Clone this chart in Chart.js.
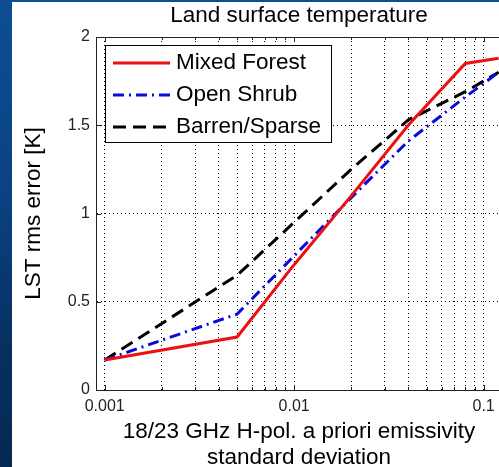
<!DOCTYPE html>
<html>
<head>
<meta charset="utf-8">
<script src="https://cdn.jsdelivr.net/npm/chart.js@4"></script>
<style>
  html, body { margin: 0; padding: 0; }
  body {
    width: 499px; height: 467px; overflow: hidden; position: relative;
    background: linear-gradient(180deg, #0d4e94 0%, #0b4283 40%, #073060 75%, #052851 100%);
  }
  #panel { position: absolute; left: 12px; top: 2px; right: 0; bottom: 0; background: #fff; }
  #chart { position: absolute; left: 0; top: 0; }
</style>
</head>
<body>
<div id="panel"></div>
<canvas id="chart" width="594" height="467"></canvas>
<script>
// LST rms error vs a priori emissivity standard deviation
const xValues = [0.001, 0.005, 0.01, 0.02, 0.04, 0.08, 0.12];
const mixedForest = [0.17, 0.30, 0.71, 1.10, 1.50, 1.85, 1.88];
const openShrub = [0.17, 0.43, 0.76, 1.09, 1.41, 1.66, 1.80];
const barrenSparse = [0.17, 0.65, 0.95, 1.25, 1.53, 1.69, 1.80];
const seriesNames = ['Mixed Forest', 'Open Shrub', 'Barren/Sparse'];

const xTicks = [0.001, 0.002, 0.003, 0.004, 0.005, 0.006, 0.007, 0.008, 0.009,
                0.01, 0.02, 0.03, 0.04, 0.05, 0.06, 0.07, 0.08, 0.09, 0.1];
const xMajor = [0.001, 0.01, 0.1];
const xMajorLabels = ['0.001', '0.01', '0.1'];
const yTicks = [0, 0.5, 1, 1.5, 2];

const FONT = 'Liberation Sans';

function majorIndex(v) {
    return xMajor.findIndex(m => Math.abs(m - v) / m < 1e-6);
}

function toPoints(ys) {
    return xValues.map((x, i) => ({ x: x, y: ys[i] }));
}

// box round the axes plus inward tick marks, matlab style
const framePlugin = {
    id: 'frame',
    afterDatasetsDraw(chart) {
        const { ctx, chartArea: a, scales: { x, y } } = chart;
        ctx.save();
        ctx.strokeStyle = '#222';
        ctx.lineWidth = 1;
        ctx.beginPath();
        ctx.moveTo(a.left, a.top + 0.5);
        ctx.lineTo(a.right, a.top + 0.5);
        ctx.moveTo(a.right - 0.5, a.top);
        ctx.lineTo(a.right - 0.5, a.bottom);
        x.ticks.forEach(t => {
            const px = Math.round(x.getPixelForValue(t.value)) + 0.5;
            const len = majorIndex(t.value) >= 0 ? 5 : 3;
            ctx.moveTo(px, a.bottom);
            ctx.lineTo(px, a.bottom - len);
            ctx.moveTo(px, a.top);
            ctx.lineTo(px, a.top + len);
        });
        y.ticks.forEach(t => {
            const py = Math.round(y.getPixelForValue(t.value)) + 0.5;
            ctx.moveTo(a.left, py);
            ctx.lineTo(a.left + 5, py);
        });
        ctx.stroke();
        ctx.restore();
    }
};

// legend drawn inside the axes with a framed white box
const boxLegend = {
    id: 'boxLegend',
    afterDraw(chart) {
        const { ctx, chartArea: a } = chart;
        const bx = a.left + 9, by = a.top + 8, bw = 226, bh = 97;
        ctx.save();
        ctx.fillStyle = '#fff';
        ctx.fillRect(bx, by, bw, bh);
        ctx.strokeStyle = '#000';
        ctx.lineWidth = 1;
        ctx.strokeRect(bx + 0.5, by + 0.5, bw, bh);
        chart.data.datasets.forEach((ds, i) => {
            const ly = by + 18 + i * 32;
            ctx.strokeStyle = ds.borderColor;
            ctx.lineWidth = ds.borderWidth;
            ctx.setLineDash(ds.borderDash || []);
            ctx.beginPath();
            ctx.moveTo(bx + 8, ly);
            ctx.lineTo(bx + 65, ly);
            ctx.stroke();
            ctx.setLineDash([]);
            ctx.fillStyle = '#000';
            ctx.font = '22.5px "' + FONT + '"';
            ctx.textBaseline = 'middle';
            ctx.textAlign = 'left';
            ctx.fillText(ds.label, bx + 71, ly);
        });
        ctx.restore();
    }
};

new Chart(document.getElementById('chart'), {
    type: 'line',
    data: {
        datasets: [
            {
                label: seriesNames[0],
                data: toPoints(mixedForest),
                borderColor: 'rgb(235,17,17)',
                borderWidth: 3,
                borderDash: []
            },
            {
                label: seriesNames[1],
                data: toPoints(openShrub),
                borderColor: 'rgb(10,10,220)',
                borderWidth: 3,
                borderDash: [11, 5, 2, 5]
            },
            {
                label: seriesNames[2],
                data: toPoints(barrenSparse),
                borderColor: '#000',
                borderWidth: 3,
                borderDash: [13, 7]
            }
        ]
    },
    options: {
        responsive: false,
        animation: false,
        layout: { padding: { left: 0, right: 92, top: 0, bottom: 0 } },
        elements: {
            point: { radius: 0 },
            line: { tension: 0, borderCapStyle: 'butt', fill: false }
        },
        plugins: {
            legend: { display: false },
            tooltip: { enabled: false },
            title: {
                display: true,
                fullSize: false,
                text: 'Land surface temperature',
                color: '#000',
                font: { family: FONT, size: 22.5, weight: 'normal', lineHeight: 1.2 },
                padding: { top: 2, bottom: 8 }
            }
        },
        scales: {
            x: {
                type: 'logarithmic',
                min: 0.0009,
                max: 0.125,
                afterBuildTicks: s => { s.ticks = xTicks.map(v => ({ value: v })); },
                afterFit: s => { s.height = 77; },
                ticks: {
                    autoSkip: false,
                    maxRotation: 0,
                    padding: 7,
                    color: '#222',
                    font: { family: FONT, size: 16 },
                    callback: v => {
                        const i = majorIndex(v);
                        return i >= 0 ? xMajorLabels[i] : '';
                    }
                },
                grid: { color: '#000', lineWidth: 1, drawTicks: false },
                border: { display: true, color: '#222', width: 1, dash: [1, 3] },
                title: {
                    display: true,
                    text: ['18/23 GHz H-pol. a priori emissivity', 'standard deviation'],
                    color: '#000',
                    font: { family: FONT, size: 22.5, lineHeight: 1.12 },
                    padding: { top: 0, bottom: -3 }
                }
            },
            y: {
                min: 0,
                max: 2,
                afterBuildTicks: s => { s.ticks = yTicks.map(v => ({ value: v })); },
                afterFit: s => { s.width = 96; },
                ticks: {
                    padding: 6,
                    color: '#222',
                    font: { family: FONT, size: 16 },
                    callback: v => String(v)
                },
                grid: { color: '#000', lineWidth: 1, drawTicks: false },
                border: { display: true, color: '#222', width: 1, dash: [1, 3] },
                title: {
                    display: true,
                    text: 'LST rms error [K]',
                    color: '#000',
                    font: { family: FONT, size: 22.5, lineHeight: 1.2 },
                    padding: { top: 20, bottom: 0 }
                }
            }
        }
    },
    plugins: [framePlugin, boxLegend]
});
</script>
</body>
</html>
